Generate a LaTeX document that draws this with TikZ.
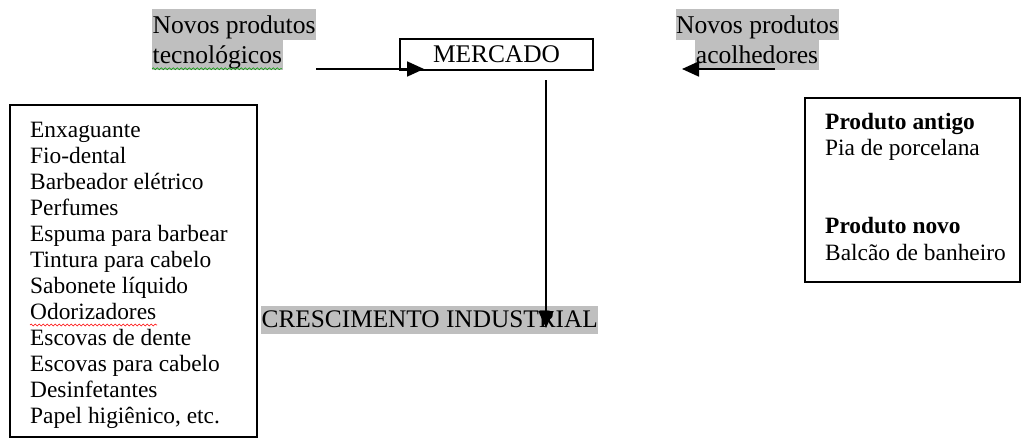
\documentclass[tikz,border=0pt]{standalone}
\usepackage{fontspec}
\setmainfont{Liberation Serif}
\usetikzlibrary{arrows.meta,decorations.pathmorphing}
\begin{document}
\begin{tikzpicture}[x=1pt,y=-1pt,
 hl/.style={fill=lightgray,inner xsep=0.5pt,inner ysep=0pt,text height=24pt,text depth=6.5pt,font=\fontsize{25.6}{30}\selectfont},
 boxed/.style={draw,line width=1.3pt,inner sep=0pt},
 arr/.style={line width=1.8pt,-{Triangle[length=17pt,width=15pt]}},
 lst/.style={font=\fontsize{23.4}{26}\selectfont,inner sep=0pt,anchor=base west},
 squig/.style={decorate,decoration={snake,amplitude=0.9pt,segment length=4pt},line width=0.6pt}]
\useasboundingbox (0,0) rectangle (1022,439);
% top left label
\node[hl,anchor=base west] (tl1) at (152,33) {Novos produtos};
\node[hl,anchor=base west] (tl2) at (152,63) {tecnológicos};
% top right label
\node[hl,anchor=base] (tr1) at (757.5,33) {Novos produtos};
\node[hl,anchor=base] (tr2) at (757,63) {acolhedores};
% mercado
\node[boxed,minimum width=193pt,minimum height=31pt,font=\fontsize{25.4}{30}\selectfont] (merc) at (496.5,54.5) {MERCADO};
% crescimento
\node[hl,anchor=base west,text height=21pt,text depth=7pt,font=\fontsize{25.3}{30}\selectfont] (cres) at (261,327) {CRESCIMENTO INDUSTRIAL};
% left list box
\node[boxed,minimum width=247pt,minimum height=332pt] (lbox) at (133.5,271) {};
\foreach \t [count=\i] in {Enxaguante,Fio-dental,Barbeador elétrico,Perfumes,Espuma para barbear,Tintura para cabelo,Sabonete líquido,Odorizadores,Escovas de dente,Escovas para cabelo,Desinfetantes,{Papel higiênico, etc.}}
  \node[lst] (l\i) at (30,{137+26*(\i-1)}) {\t};
% right box
\node[boxed,minimum width=215pt,minimum height=184pt] (rbox) at (912.5,190) {};
\node[lst] (r1) at (825,129) {\textbf{Produto antigo}};
\node[lst] (r2) at (825,155) {Pia de porcelana};
\node[lst] (r3) at (825,233) {\textbf{Produto novo}};
\node[lst] (r4) at (825,260) {Balcão de banheiro};
% spell-check squiggles
\draw[squig,green!60!black] (tl2.south west) ++(0,-1) -- ++(130,0);
\draw[squig,red] (l8.base west) ++(0,6) coordinate (sq) -- ++(127,0);
% arrows
\coordinate (a1s) at (316,69);
\coordinate (a1e) at (424,69);
\draw[arr] (a1s) -- (a1e);
\coordinate (a2s) at (775,69);
\coordinate (a2e) at (682,69);
\draw[arr] (a2s) -- (a2e);
\coordinate (a3s) at (546,80);
\coordinate (a3e) at (546,328);
\draw[arr] (a3s) -- (a3e);
\end{tikzpicture}
\end{document}
